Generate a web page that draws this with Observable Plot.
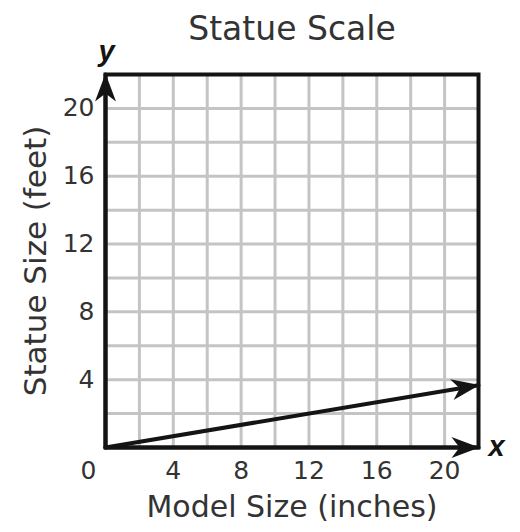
<!DOCTYPE html>
<html>
<head>
<meta charset="utf-8">
<script src="https://cdn.jsdelivr.net/npm/d3@7"></script>
<script src="https://cdn.jsdelivr.net/npm/@observablehq/plot@0.6"></script>
<style>
  html, body { margin: 0; padding: 0; background: #fff; }
</style>
</head>
<body>
<div id="chart"></div>
<script>
// ---- data ----
const titleText = "Statue Scale";
const xLabel = "Model Size (inches)";
const yLabel = "Statue Size (feet)";
const axisMax = 22;
const gridValues = [2, 4, 6, 8, 10, 12, 14, 16, 18, 20];
const xTicks = [4, 8, 12, 16, 20];
const yTicks = [4, 8, 12, 16, 20];
const modelSize = [0, 22];       // inches
const statueSize = [0, 3.67];    // feet
const originLabel = [{x: 0, y: 0, label: "0"}];

const scaleLine = modelSize.map((m, i) => ({model: m, statue: statueSize[i]}));
const xAxisLine = [{x: 0, y: 0}, {x: axisMax, y: 0}];
const yAxisLine = [{x: 0, y: 0}, {x: 0, y: axisMax}];

const ink = "#141414";
const textColor = "#333";
const font = "DejaVu Sans, Verdana, sans-serif";

function arrowHead(color) {
  const ns = "http://www.w3.org/2000/svg";
  const m = document.createElementNS(ns, "marker");
  m.setAttribute("viewBox", "-30 -13 32 26");
  m.setAttribute("markerWidth", 32);
  m.setAttribute("markerHeight", 26);
  m.setAttribute("markerUnits", "userSpaceOnUse");
  m.setAttribute("orient", "auto");
  m.setAttribute("refX", 0);
  m.setAttribute("refY", 0);
  m.setAttribute("overflow", "visible");
  const p = document.createElementNS(ns, "path");
  p.setAttribute("d", "M1,0L-27,-10.5L-19,0L-27,10.5Z");
  p.setAttribute("fill", color);
  p.setAttribute("stroke", "none");
  m.appendChild(p);
  return m;
}

function build(marker) {
  return Plot.plot({
    width: 520,
    height: 532,
    marginTop: 74,
    marginLeft: 105,
    marginRight: 42,
    marginBottom: 85,
    style: {fontFamily: font, fontSize: "25px", color: textColor, background: "#fff"},
    x: {domain: [0, axisMax], label: null, axis: null},
    y: {domain: [0, axisMax], label: null, axis: null},
    marks: [
      Plot.gridX(gridValues, {stroke: "#c4c4c4", strokeOpacity: 1, strokeWidth: 3}),
      Plot.gridY(gridValues, {stroke: "#c4c4c4", strokeOpacity: 1, strokeWidth: 3}),
      Plot.frame({stroke: ink, strokeWidth: 4}),
      Plot.axisX(xTicks, {tickSize: 0, tickPadding: 14, label: null, fontSize: 25, fill: textColor}),
      Plot.axisY(yTicks, {tickSize: 0, tickPadding: 11, label: null, fontSize: 25, fill: textColor}),
      Plot.line(yAxisLine, {x: "x", y: "y", stroke: ink, strokeWidth: 4, markerEnd: marker}),
      Plot.line(xAxisLine, {x: "x", y: "y", stroke: ink, strokeWidth: 4, markerEnd: marker}),
      Plot.line(scaleLine, {x: "model", y: "statue", stroke: ink, strokeWidth: 4, markerEnd: marker}),
      Plot.text(originLabel, {x: "x", y: "y", text: "label", dx: -17, dy: 23, fontSize: 25, fill: textColor, lineAnchor: "middle"}),
      Plot.text([titleText], {frameAnchor: "top", dy: -45.5, fontSize: 33, fill: textColor, lineAnchor: "middle", textAnchor: "middle"}),
      Plot.text([xLabel], {frameAnchor: "bottom", dy: 60, fontSize: 30, fill: textColor, lineAnchor: "middle", textAnchor: "middle"}),
      Plot.text([yLabel], {frameAnchor: "left", dx: -69, dy: 0, rotate: -90, fontSize: 31, fill: textColor, lineAnchor: "middle", textAnchor: "middle"}),
      Plot.text(["y"], {frameAnchor: "top-left", dx: 1, dy: -23, fontSize: 29, fontWeight: "bold", fontStyle: "italic", fontFamily: "Liberation Sans, Arial, sans-serif", fill: ink, lineAnchor: "middle", textAnchor: "middle"}),
      Plot.text(["x"], {frameAnchor: "bottom-right", dx: 18, dy: -1, fontSize: 29, fontWeight: "bold", fontStyle: "italic", fontFamily: "Liberation Sans, Arial, sans-serif", fill: ink, lineAnchor: "middle", textAnchor: "middle"})
    ]
  });
}

let chart;
try { chart = build(arrowHead); } catch (e) { chart = build("arrow"); }
document.getElementById("chart").appendChild(chart);
</script>
</body>
</html>
